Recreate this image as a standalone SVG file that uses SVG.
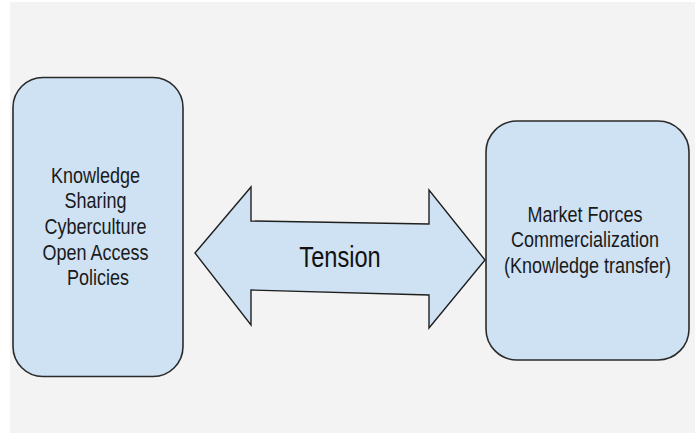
<svg xmlns="http://www.w3.org/2000/svg" width="695" height="434" viewBox="0 0 695 434">
  <style>
    .box { fill: #cfe2f3; stroke: #2b2b2b; stroke-width: 1.6; }
    .arrow { fill: #cfe2f3; stroke: #1f1f1f; stroke-width: 1.4; stroke-linejoin: miter; }
    .label { font-family: "Liberation Sans", Arial, sans-serif; font-size: 18px; fill: #1a1a1a; text-anchor: middle; }
    .big { font-family: "Liberation Sans", Arial, sans-serif; font-size: 23.6px; fill: #111; text-anchor: middle; }
  </style>
  <!-- canvas -->
  <rect x="0" y="0" width="695" height="434" fill="#ffffff"/>
  <rect x="10" y="2" width="685" height="431" fill="#f3f3f3"/>

  <g id="node-sharing">
    <rect class="box" x="13" y="77.5" width="170" height="299" rx="30" ry="30"/>
    <g transform="translate(98,182.7) scale(1,1.27)">
      <text class="label">
        <tspan x="0" y="0">Knowledge</tspan>
        <tspan x="0" dy="20.2">Sharing</tspan>
        <tspan x="0" dy="20.2">Cyberculture</tspan>
        <tspan x="0" dy="20.2">Open Access</tspan>
        <tspan x="0" dy="20.2">Policies</tspan>
      </text>
    </g>
  </g>

  <g id="node-market">
    <rect class="box" x="486" y="121" width="203" height="239" rx="31" ry="31"/>
    <g transform="translate(587.5,221.7) scale(1,1.27)">
      <text class="label">
        <tspan x="0" y="0">Market Forces</tspan>
        <tspan x="0" dy="20.2">Commercialization</tspan>
        <tspan x="0" dy="20.2">(Knowledge transfer)</tspan>
      </text>
    </g>
  </g>

  <g id="connectors">
    <g id="edge-tension">
      <polygon class="arrow" points="195,253 251,187 251,221 429,224 429,190 485,260 429,328 429,295 251,290 251,325"/>
      <g transform="translate(340,267) scale(1,1.28)">
        <text class="big" x="0" y="0">Tension</text>
      </g>
    </g>
  </g>
</svg>
